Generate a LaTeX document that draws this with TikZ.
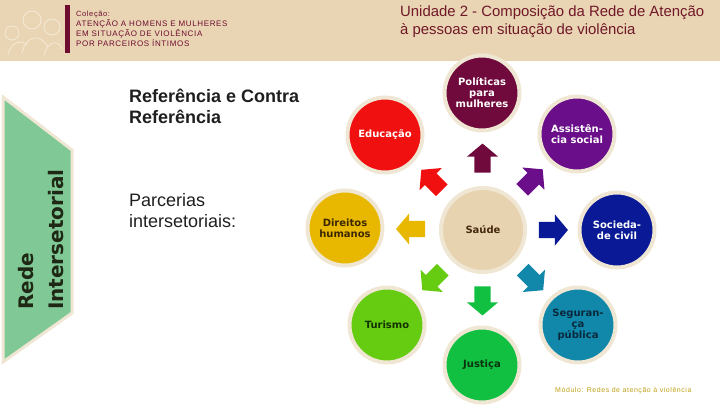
\documentclass[tikz,border=0pt]{standalone}
\usepackage{fontspec}
\setmainfont{Liberation Sans}
\newfontfamily\verd{DejaVu Sans}
\usetikzlibrary{shapes.arrows, calc}

\definecolor{banda}{RGB}{233,213,180}
\definecolor{risco}{RGB}{246,234,214}
\definecolor{vinho}{RGB}{110,12,48}
\definecolor{titulo}{RGB}{112,24,40}
\definecolor{verde}{RGB}{128,200,150}
\definecolor{borda}{RGB}{240,230,212}
\definecolor{escuro}{RGB}{30,40,20}
\definecolor{rodape}{RGB}{190,160,20}
\definecolor{cPol}{RGB}{112,10,60}
\definecolor{cEdu}{RGB}{240,16,16}
\definecolor{cAsi}{RGB}{106,14,138}
\definecolor{cDir}{RGB}{232,184,0}
\definecolor{cSau}{RGB}{232,211,176}
\definecolor{cSoc}{RGB}{10,26,150}
\definecolor{cTur}{RGB}{102,204,17}
\definecolor{cJus}{RGB}{17,192,64}
\definecolor{cSeg}{RGB}{17,136,170}

\begin{document}
\begin{tikzpicture}[x=1pt, y=1pt,
  setor/.style={circle, draw=borda, line width=4pt, minimum size=75pt, inner sep=0pt,
    align=center, font=\verd\bfseries\fontsize{10}{11}\selectfont},
  seta/.style={single arrow, draw=none, inner xsep=0pt, inner ysep=8pt, minimum height=29pt,
    single arrow head extend=7.5pt, single arrow tip angle=100}]

  \useasboundingbox (0,0) rectangle (720,405);

  % cabecalho
  \fill[banda] (0,344) rectangle (720,405);
  \draw[risco, thick] (12,372) circle[radius=7] (8,350) .. controls (10,362) and (20,366) .. (28,360);
  \draw[risco, thick] (32,385) circle[radius=9] (22,352) .. controls (26,370) and (40,372) .. (48,358);
  \draw[risco, thick] (52,378) circle[radius=8] (44,350) .. controls (48,364) and (58,366) .. (62,356);
  \fill[vinho] (65,352) rectangle (70,400);
  \node[anchor=north west, inner sep=0pt, align=left, text=vinho,
    font=\fontsize{8}{9.8}\selectfont\addfontfeature{LetterSpace=8}] (colecao) at (76,394)
    {{\fontsize{7.5}{9.8}\selectfont Coleção:}\\ATENÇÃO A HOMENS E MULHERES\\EM SITUAÇÃO DE VIOLÊNCIA\\POR PARCEIROS ÍNTIMOS};
  \node[anchor=north west, inner sep=0pt, align=left, text=titulo,
    font=\fontsize{14.9}{18}\selectfont] (unidade) at (400,399)
    {Unidade 2 - Composição da Rede de Atenção\\à pessoas em situação de violência};

  % faixa lateral
  \draw[borda, line width=3pt, fill=verde] (3,308) -- (72,255) -- (72,92) -- (3,43) -- cycle;
  \node[rotate=90, anchor=base west, inner sep=0pt, text=escuro,
    font=\verd\bfseries\fontsize{20}{24}\selectfont] (rede) at (33,95) {Rede};
  \node[rotate=90, anchor=base west, inner sep=0pt, text=escuro,
    font=\verd\bfseries\fontsize{20}{24}\selectfont] (inter) at (63,95) {Intersetorial};

  \node[anchor=north west, inner sep=0pt, align=left, text=black!88,
    font=\bfseries\fontsize{18}{21}\selectfont] (refer) at (129,316) {Referência e Contra\\Referência};
  \node[anchor=north west, inner sep=0pt, align=left, text=black!88,
    font=\fontsize{18}{21}\selectfont] (parc) at (129,212) {Parcerias\\intersetoriais:};

  % setores
  \node[setor, fill=cSau, minimum size=84pt, text={rgb,255:red,70;green,40;blue,15}] (sau) at (483,175) {Saúde};
  \node[setor, fill=cPol, text=white] (pol) at (482,312) {Políticas\\para\\mulheres};
  \node[setor, fill=cEdu, text=white] (edu) at (385,270) {Educação};
  \node[setor, fill=cAsi, text=white] (asi) at (577,271) {Assistên-\\cia social};
  \node[setor, fill=cDir, text={rgb,255:red,60;green,40;blue,0}] (dir) at (345,177) {Direitos\\humanos};
  \node[setor, fill=cSoc, text=white] (soc) at (617,175) {Socieda-\\de civil};
  \node[setor, fill=cTur, text={rgb,255:red,20;green,50;blue,0}] (tur) at (387,80) {Turismo};
  \node[setor, fill=cJus, text={rgb,255:red,10;green,50;blue,15}] (jus) at (482,40) {Justiça};
  \node[setor, fill=cSeg, text={rgb,255:red,10;green,40;blue,60}] (seg) at (578,80) {Seguran-\\ça\\pública};

  % setas
  \foreach \dest/\ang/\cor in {pol/90/cPol, edu/135/cEdu, asi/45/cAsi, dir/180/cDir,
      soc/0/cSoc, tur/225/cTur, jus/270/cJus, seg/315/cSeg}
    \node[seta, fill=\cor, rotate=\ang] (seta-\dest) at ($(sau)!0.5!(\dest)$) {};

  \node[anchor=base west, inner sep=0pt, text=rodape,
    font=\fontsize{7}{8}\selectfont\addfontfeature{LetterSpace=8}] (modulo) at (555,13)
    {Módulo: Redes de atenção à violência};
\end{tikzpicture}
\end{document}
